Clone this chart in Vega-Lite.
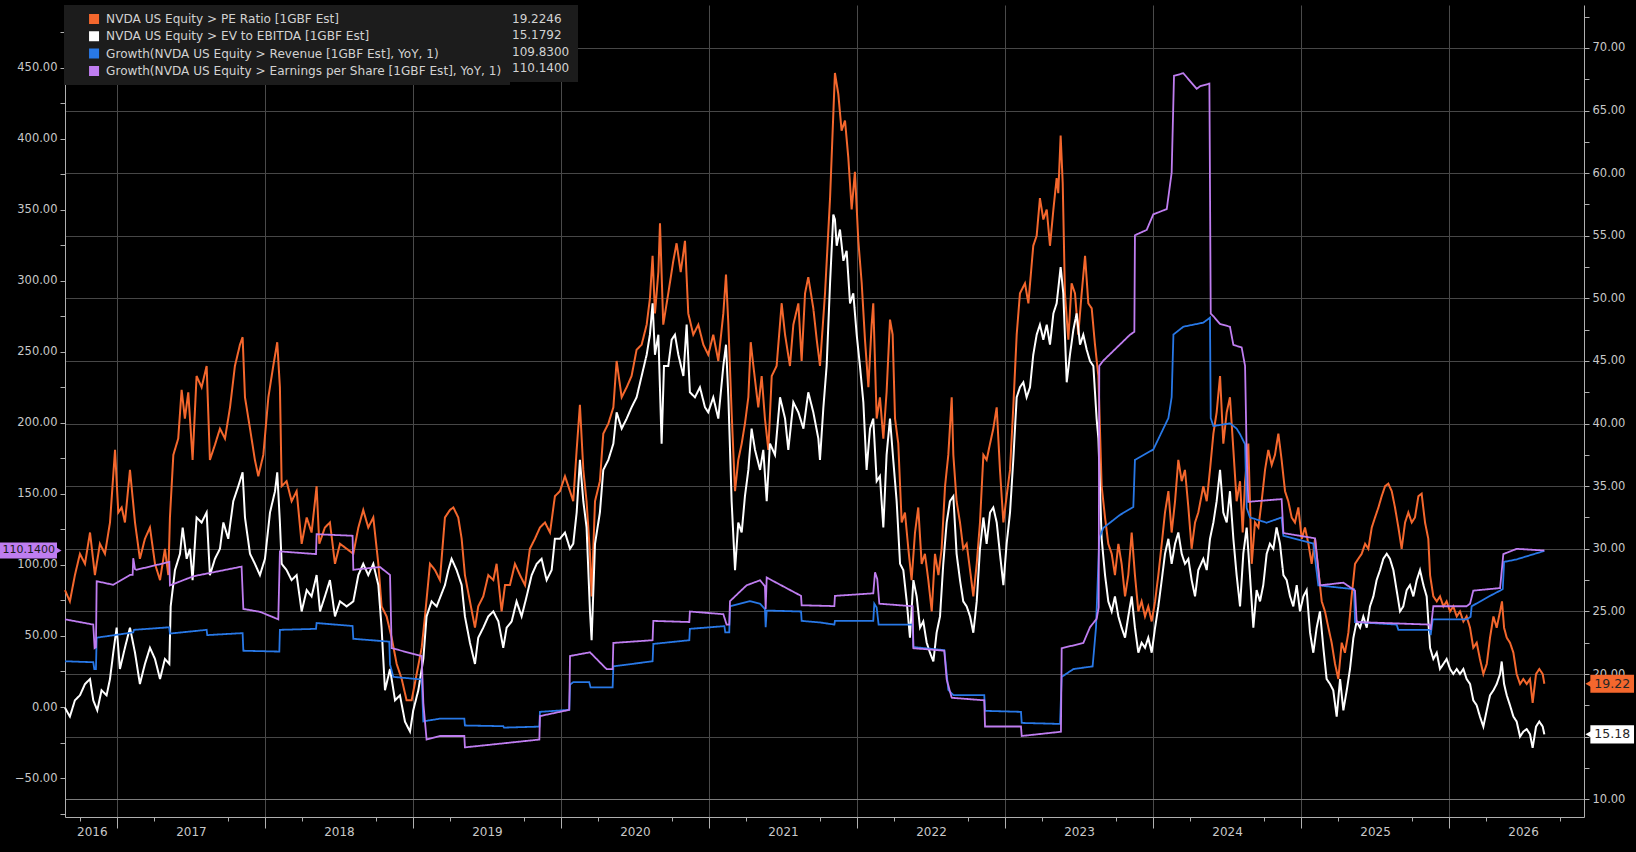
{
  "$schema": "https://vega.github.io/schema/vega-lite/v6.json",
  "width": 1519,
  "height": 812,
  "autosize": {"type": "none"},
  "padding": {"left": 65, "top": 5, "right": 52, "bottom": 35},
  "background": "#000000",
  "config": {
    "view": {"stroke": null, "fill": "#000000"},
    "font": "DejaVu Sans",
    "axis": {"labelFont": "DejaVu Sans", "labelFontSize": 11.5, "labelColor": "#c8c8c8", "tickColor": "#b0b0b0", "domainColor": "#b0b0b0"},
    "legend": {"labelFont": "DejaVu Sans", "labelFontSize": 12, "labelColor": "#d2d2d2", "fillColor": "#1c1c1c", "padding": 8, "rowPadding": 4.3, "labelLimit": 700, "clipHeight": 12}
  },
  "datasets": {
    "pe": [
      {"t":2016.649,"v":26.7},{"t":2016.682,"v":25.8},{"t":2016.716,"v":27.9},{"t":2016.75,"v":29.6},{"t":2016.784,"v":28.8},{"t":2016.818,"v":31.3},{"t":2016.851,"v":27.9},{"t":2016.885,"v":30.4},{"t":2016.919,"v":29.6},{"t":2016.953,"v":32.1},{"t":2016.987,"v":37.9},{"t":2017.009,"v":32.9},{"t":2017.032,"v":33.3},{"t":2017.054,"v":32.1},{"t":2017.088,"v":36.3},{"t":2017.122,"v":32.1},{"t":2017.155,"v":29.2},{"t":2017.189,"v":30.8},{"t":2017.223,"v":31.7},{"t":2017.257,"v":28.8},{"t":2017.291,"v":27.5},{"t":2017.324,"v":30.0},{"t":2017.347,"v":27.9},{"t":2017.358,"v":32.5},{"t":2017.381,"v":37.5},{"t":2017.414,"v":38.8},{"t":2017.437,"v":42.7},{"t":2017.459,"v":40.4},{"t":2017.482,"v":42.5},{"t":2017.511,"v":37.1},{"t":2017.538,"v":43.8},{"t":2017.572,"v":42.9},{"t":2017.606,"v":44.6},{"t":2017.628,"v":37.1},{"t":2017.662,"v":38.3},{"t":2017.696,"v":39.6},{"t":2017.73,"v":38.8},{"t":2017.764,"v":41.3},{"t":2017.797,"v":44.6},{"t":2017.831,"v":46.3},{"t":2017.849,"v":46.9},{"t":2017.865,"v":42.1},{"t":2017.899,"v":39.6},{"t":2017.932,"v":37.1},{"t":2017.955,"v":35.8},{"t":2017.989,"v":37.5},{"t":2018.023,"v":42.1},{"t":2018.056,"v":44.6},{"t":2018.083,"v":46.5},{"t":2018.101,"v":42.9},{"t":2018.113,"v":35.0},{"t":2018.146,"v":35.4},{"t":2018.18,"v":33.8},{"t":2018.214,"v":34.6},{"t":2018.248,"v":30.4},{"t":2018.282,"v":32.5},{"t":2018.315,"v":31.3},{"t":2018.349,"v":35.0},{"t":2018.367,"v":30.4},{"t":2018.405,"v":31.7},{"t":2018.439,"v":32.1},{"t":2018.473,"v":28.8},{"t":2018.507,"v":30.4},{"t":2018.552,"v":30.0},{"t":2018.597,"v":29.6},{"t":2018.631,"v":31.7},{"t":2018.664,"v":33.1},{"t":2018.698,"v":31.7},{"t":2018.732,"v":32.5},{"t":2018.766,"v":28.8},{"t":2018.788,"v":25.4},{"t":2018.822,"v":24.6},{"t":2018.856,"v":22.9},{"t":2018.89,"v":20.8},{"t":2018.924,"v":19.6},{"t":2018.957,"v":17.9},{"t":2018.991,"v":17.9},{"t":2019.025,"v":20.0},{"t":2019.059,"v":22.1},{"t":2019.081,"v":24.6},{"t":2019.115,"v":28.8},{"t":2019.149,"v":28.3},{"t":2019.182,"v":27.5},
      {"t":2019.216,"v":32.5},{"t":2019.25,"v":33.1},{"t":2019.273,"v":33.3},{"t":2019.306,"v":32.5},{"t":2019.329,"v":30.8},{"t":2019.351,"v":27.9},{"t":2019.385,"v":25.8},{"t":2019.419,"v":23.7},{"t":2019.441,"v":25.4},{"t":2019.475,"v":26.2},{"t":2019.509,"v":27.9},{"t":2019.543,"v":27.5},{"t":2019.565,"v":28.8},{"t":2019.599,"v":25.0},{"t":2019.622,"v":27.1},{"t":2019.655,"v":27.1},{"t":2019.689,"v":28.8},{"t":2019.723,"v":27.9},{"t":2019.757,"v":27.1},{"t":2019.79,"v":30.0},{"t":2019.824,"v":30.8},{"t":2019.858,"v":31.7},{"t":2019.892,"v":32.1},{"t":2019.926,"v":31.3},{"t":2019.959,"v":34.2},{"t":2019.993,"v":34.6},{"t":2020.027,"v":35.8},{"t":2020.061,"v":34.6},{"t":2020.083,"v":33.8},{"t":2020.106,"v":37.9},{"t":2020.128,"v":41.5},{"t":2020.151,"v":36.3},{"t":2020.173,"v":33.8},{"t":2020.196,"v":29.6},{"t":2020.207,"v":26.2},{"t":2020.23,"v":33.8},{"t":2020.263,"v":35.4},{"t":2020.286,"v":39.2},{"t":2020.32,"v":40.0},{"t":2020.354,"v":41.3},{"t":2020.376,"v":45.0},{"t":2020.41,"v":42.1},{"t":2020.444,"v":42.9},{"t":2020.477,"v":43.8},{"t":2020.511,"v":45.9},{"t":2020.545,"v":46.3},{"t":2020.579,"v":47.9},{"t":2020.601,"v":50.0},{"t":2020.619,"v":53.4},{"t":2020.635,"v":48.8},{"t":2020.658,"v":52.1},{"t":2020.669,"v":56.0},{"t":2020.691,"v":47.9},{"t":2020.725,"v":50.4},{"t":2020.759,"v":53.0},{"t":2020.781,"v":54.4},{"t":2020.809,"v":52.1},{"t":2020.838,"v":54.6},{"t":2020.86,"v":48.8},{"t":2020.894,"v":47.1},{"t":2020.928,"v":47.9},{"t":2020.962,"v":46.3},{"t":2020.995,"v":45.5},{"t":2021.029,"v":47.1},{"t":2021.063,"v":45.0},{"t":2021.097,"v":48.8},{"t":2021.115,"v":51.9},{"t":2021.131,"v":47.9},{"t":2021.153,"v":40.9},{"t":2021.176,"v":34.6},{"t":2021.198,"v":37.1},{"t":2021.221,"v":38.4},{"t":2021.243,"v":40.0},{"t":2021.266,"v":42.1},{"t":2021.282,"v":46.5},{"t":2021.3,"v":44.6},{"t":2021.333,"v":41.3},{"t":2021.356,"v":43.8},{"t":2021.378,"v":40.4},{"t":2021.401,"v":37.9},{"t":2021.424,"v":43.8},{"t":2021.457,"v":44.6},{"t":2021.491,"v":49.6},{"t":2021.514,"v":47.1},{"t":2021.547,"v":44.6},{"t":2021.57,"v":47.9},{"t":2021.604,"v":49.6},{"t":2021.626,"v":45.0},{"t":2021.649,"v":50.4},{"t":2021.671,"v":51.7},{"t":2021.705,"v":49.2},{"t":2021.728,"v":46.7},
      {"t":2021.75,"v":44.6},{"t":2021.784,"v":50.4},{"t":2021.818,"v":58.0},{"t":2021.84,"v":64.7},{"t":2021.851,"v":68.0},{"t":2021.874,"v":66.3},{"t":2021.896,"v":63.4},{"t":2021.919,"v":64.2},{"t":2021.941,"v":61.3},{"t":2021.964,"v":57.1},{"t":2021.986,"v":60.1},{"t":2022.009,"v":54.6},{"t":2022.032,"v":51.2},{"t":2022.054,"v":46.7},{"t":2022.077,"v":42.9},{"t":2022.099,"v":47.9},{"t":2022.11,"v":49.6},{"t":2022.133,"v":40.4},{"t":2022.155,"v":42.1},{"t":2022.178,"v":38.8},{"t":2022.2,"v":42.5},{"t":2022.223,"v":48.3},{"t":2022.241,"v":47.1},{"t":2022.257,"v":40.4},{"t":2022.279,"v":38.4},{"t":2022.302,"v":32.1},{"t":2022.324,"v":32.9},{"t":2022.347,"v":30.0},{"t":2022.369,"v":27.5},{"t":2022.392,"v":31.3},{"t":2022.414,"v":33.3},{"t":2022.437,"v":28.8},{"t":2022.459,"v":29.6},{"t":2022.482,"v":27.5},{"t":2022.505,"v":25.0},{"t":2022.527,"v":29.6},{"t":2022.55,"v":27.9},{"t":2022.572,"v":30.0},{"t":2022.595,"v":35.0},{"t":2022.617,"v":37.5},{"t":2022.64,"v":42.1},{"t":2022.651,"v":37.5},{"t":2022.673,"v":33.8},{"t":2022.696,"v":32.1},{"t":2022.718,"v":30.0},{"t":2022.741,"v":30.4},{"t":2022.764,"v":28.3},{"t":2022.786,"v":26.2},{"t":2022.809,"v":28.8},{"t":2022.831,"v":32.1},{"t":2022.854,"v":37.5},{"t":2022.876,"v":37.1},{"t":2022.899,"v":38.4},{"t":2022.921,"v":39.6},{"t":2022.944,"v":41.3},{"t":2022.966,"v":36.3},{"t":2022.989,"v":32.1},{"t":2023.011,"v":34.2},{"t":2023.034,"v":36.3},{"t":2023.056,"v":41.3},{"t":2023.079,"v":47.1},{"t":2023.101,"v":50.4},{"t":2023.135,"v":51.2},{"t":2023.158,"v":49.6},{"t":2023.191,"v":54.2},{"t":2023.214,"v":55.0},{"t":2023.236,"v":58.0},{"t":2023.259,"v":56.3},{"t":2023.282,"v":57.1},{"t":2023.304,"v":54.2},{"t":2023.327,"v":57.1},{"t":2023.349,"v":59.6},{"t":2023.36,"v":58.4},{"t":2023.376,"v":63.0},{"t":2023.39,"v":59.2},{"t":2023.405,"v":50.4},{"t":2023.428,"v":46.7},{"t":2023.45,"v":51.2},{"t":2023.473,"v":50.4},{"t":2023.495,"v":47.1},{"t":2023.518,"v":50.4},{"t":2023.541,"v":53.4},{"t":2023.563,"v":49.6},{"t":2023.586,"v":49.2},{"t":2023.608,"v":46.3},{"t":2023.631,"v":43.8},{"t":2023.653,"v":35.0},{"t":2023.676,"v":32.5},{"t":2023.698,"v":30.4},{"t":2023.721,"v":29.6},{"t":2023.743,"v":27.9},{"t":2023.766,"v":30.4},{"t":2023.788,"v":28.8},{"t":2023.811,"v":26.2},{"t":2023.833,"v":27.9},{"t":2023.856,"v":31.3},{"t":2023.878,"v":27.9},{"t":2023.901,"v":25.0},{"t":2023.923,"v":25.8},{"t":2023.946,"v":24.6},{"t":2023.968,"v":25.4},{"t":2023.991,"v":24.2},{"t":2024.014,"v":25.8},{"t":2024.036,"v":27.9},{"t":2024.059,"v":30.4},{"t":2024.081,"v":32.9},{"t":2024.104,"v":34.6},{"t":2024.126,"v":31.3},{"t":2024.149,"v":33.8},{"t":2024.171,"v":37.1},{"t":2024.194,"v":35.4},{"t":2024.216,"v":36.3},{"t":2024.239,"v":33.3},{"t":2024.261,"v":30.0},{"t":2024.284,"v":32.1},{"t":2024.306,"v":32.9},
      {"t":2024.34,"v":35.0},{"t":2024.363,"v":33.8},{"t":2024.385,"v":36.3},{"t":2024.408,"v":39.2},{"t":2024.43,"v":40.9},{"t":2024.453,"v":43.8},{"t":2024.475,"v":38.4},{"t":2024.498,"v":40.9},{"t":2024.52,"v":42.1},{"t":2024.543,"v":37.9},{"t":2024.565,"v":33.8},{"t":2024.588,"v":35.4},{"t":2024.606,"v":31.3},{"t":2024.622,"v":35.4},{"t":2024.644,"v":38.4},{"t":2024.655,"v":33.8},{"t":2024.667,"v":28.8},{"t":2024.689,"v":32.1},{"t":2024.712,"v":31.7},{"t":2024.734,"v":33.8},{"t":2024.757,"v":36.3},{"t":2024.779,"v":37.9},{"t":2024.802,"v":36.7},{"t":2024.824,"v":37.5},{"t":2024.847,"v":39.2},{"t":2024.869,"v":37.1},{"t":2024.892,"v":34.6},{"t":2024.914,"v":33.8},{"t":2024.937,"v":32.5},{"t":2024.959,"v":32.1},{"t":2024.982,"v":33.3},{"t":2025.005,"v":30.8},{"t":2025.027,"v":31.7},{"t":2025.05,"v":30.4},{"t":2025.072,"v":28.8},{"t":2025.095,"v":30.8},{"t":2025.117,"v":28.3},{"t":2025.14,"v":25.8},{"t":2025.162,"v":25.0},{"t":2025.185,"v":23.7},{"t":2025.207,"v":22.5},{"t":2025.23,"v":20.8},{"t":2025.252,"v":19.6},{"t":2025.275,"v":22.5},{"t":2025.297,"v":21.7},{"t":2025.32,"v":23.3},{"t":2025.342,"v":26.2},{"t":2025.365,"v":28.8},{"t":2025.387,"v":29.2},{"t":2025.41,"v":29.6},{"t":2025.433,"v":30.4},{"t":2025.455,"v":30.0},{"t":2025.478,"v":31.7},{"t":2025.5,"v":32.5},{"t":2025.523,"v":33.3},{"t":2025.545,"v":34.2},{"t":2025.568,"v":35.0},{"t":2025.59,"v":35.2},{"t":2025.613,"v":34.6},{"t":2025.635,"v":33.3},{"t":2025.658,"v":31.7},{"t":2025.68,"v":30.0},{"t":2025.703,"v":32.1},{"t":2025.725,"v":32.9},{"t":2025.748,"v":32.1},{"t":2025.77,"v":32.5},{"t":2025.793,"v":34.2},{"t":2025.815,"v":34.4},{"t":2025.838,"v":32.1},{"t":2025.86,"v":30.8},{"t":2025.872,"v":27.9},{"t":2025.894,"v":26.2},{"t":2025.917,"v":25.8},{"t":2025.939,"v":26.2},{"t":2025.962,"v":25.4},{"t":2025.984,"v":25.8},{"t":2026.007,"v":25.0},{"t":2026.029,"v":25.4},{"t":2026.052,"v":24.6},{"t":2026.074,"v":25.0},{"t":2026.097,"v":24.2},{"t":2026.119,"v":24.6},{"t":2026.142,"v":23.7},{"t":2026.164,"v":22.1},{"t":2026.187,"v":22.5},{"t":2026.209,"v":21.2},{"t":2026.232,"v":20.0},{"t":2026.255,"v":20.8},{"t":2026.277,"v":22.9},{"t":2026.3,"v":24.6},{"t":2026.322,"v":23.7},{"t":2026.345,"v":25.0},{"t":2026.358,"v":25.8},{"t":2026.372,"v":23.7},{"t":2026.39,"v":22.9},{"t":2026.412,"v":22.5},{"t":2026.435,"v":21.7},{"t":2026.457,"v":20.0},{"t":2026.48,"v":19.2},{"t":2026.502,"v":19.6},{"t":2026.525,"v":19.2},{"t":2026.547,"v":19.6},{"t":2026.565,"v":17.7},{"t":2026.588,"v":20.0},{"t":2026.61,"v":20.4},{"t":2026.633,"v":20.0},{"t":2026.644,"v":19.22}
    ],
    "ev": [
      {"t":2016.649,"v":17.3},{"t":2016.682,"v":16.6},{"t":2016.716,"v":17.9},{"t":2016.75,"v":18.3},{"t":2016.784,"v":19.2},{"t":2016.818,"v":19.6},{"t":2016.84,"v":17.9},{"t":2016.867,"v":17.1},{"t":2016.896,"v":18.7},{"t":2016.93,"v":18.3},{"t":2016.953,"v":19.6},{"t":2016.975,"v":21.7},{"t":2016.998,"v":23.7},{"t":2017.02,"v":20.4},{"t":2017.054,"v":22.1},{"t":2017.088,"v":23.7},{"t":2017.122,"v":21.7},{"t":2017.155,"v":19.2},{"t":2017.189,"v":20.8},{"t":2017.223,"v":22.1},{"t":2017.257,"v":21.2},{"t":2017.291,"v":19.6},{"t":2017.324,"v":21.2},{"t":2017.354,"v":20.8},{"t":2017.363,"v":25.4},{"t":2017.392,"v":28.3},{"t":2017.426,"v":29.6},{"t":2017.444,"v":31.7},{"t":2017.471,"v":29.2},{"t":2017.493,"v":30.0},{"t":2017.511,"v":27.5},{"t":2017.538,"v":32.5},{"t":2017.572,"v":32.1},{"t":2017.606,"v":32.9},{"t":2017.628,"v":27.9},{"t":2017.662,"v":29.2},{"t":2017.696,"v":30.0},{"t":2017.719,"v":32.1},{"t":2017.752,"v":30.8},{"t":2017.786,"v":33.8},{"t":2017.82,"v":35.0},{"t":2017.849,"v":36.1},{"t":2017.865,"v":32.5},{"t":2017.899,"v":29.6},{"t":2017.932,"v":28.8},{"t":2017.966,"v":27.9},{"t":2018.0,"v":29.2},{"t":2018.034,"v":32.9},{"t":2018.068,"v":34.6},{"t":2018.083,"v":36.1},{"t":2018.101,"v":32.1},{"t":2018.113,"v":28.8},{"t":2018.146,"v":28.3},{"t":2018.18,"v":27.5},{"t":2018.214,"v":27.9},{"t":2018.248,"v":25.0},{"t":2018.282,"v":26.7},{"t":2018.315,"v":26.2},{"t":2018.349,"v":27.9},{"t":2018.372,"v":25.0},{"t":2018.405,"v":26.2},{"t":2018.439,"v":27.5},{"t":2018.473,"v":24.6},{"t":2018.507,"v":25.8},{"t":2018.552,"v":25.4},{"t":2018.597,"v":25.8},{"t":2018.631,"v":27.9},{"t":2018.664,"v":28.8},{"t":2018.698,"v":27.9},{"t":2018.732,"v":28.8},{"t":2018.766,"v":27.1},{"t":2018.788,"v":23.7},{"t":2018.811,"v":18.7},{"t":2018.845,"v":20.4},{"t":2018.879,"v":17.9},{"t":2018.912,"v":18.3},{"t":2018.946,"v":16.2},{"t":2018.98,"v":15.4},{"t":2019.002,"v":17.1},{"t":2019.036,"v":18.7},{"t":2019.07,"v":21.2},{"t":2019.092,"v":24.6},{"t":2019.126,"v":25.8},{"t":2019.16,"v":25.4},
      {"t":2019.216,"v":27.1},{"t":2019.239,"v":28.3},{"t":2019.261,"v":29.2},{"t":2019.295,"v":28.3},{"t":2019.329,"v":27.1},{"t":2019.351,"v":24.6},{"t":2019.385,"v":22.5},{"t":2019.419,"v":20.8},{"t":2019.441,"v":22.9},{"t":2019.475,"v":23.7},{"t":2019.509,"v":24.6},{"t":2019.543,"v":25.0},{"t":2019.577,"v":24.2},{"t":2019.61,"v":22.1},{"t":2019.633,"v":23.7},{"t":2019.667,"v":24.2},{"t":2019.7,"v":25.8},{"t":2019.734,"v":24.6},{"t":2019.768,"v":26.2},{"t":2019.802,"v":27.9},{"t":2019.836,"v":28.8},{"t":2019.869,"v":29.2},{"t":2019.903,"v":27.5},{"t":2019.937,"v":28.3},{"t":2019.959,"v":30.8},{"t":2019.993,"v":30.8},{"t":2020.027,"v":31.3},{"t":2020.061,"v":30.0},{"t":2020.083,"v":30.4},{"t":2020.106,"v":32.9},{"t":2020.128,"v":37.1},{"t":2020.151,"v":33.8},{"t":2020.173,"v":31.7},{"t":2020.196,"v":25.0},{"t":2020.207,"v":22.7},{"t":2020.23,"v":30.4},{"t":2020.263,"v":32.9},{"t":2020.286,"v":36.3},{"t":2020.32,"v":37.1},{"t":2020.354,"v":38.4},{"t":2020.376,"v":40.9},{"t":2020.41,"v":39.6},{"t":2020.444,"v":40.4},{"t":2020.477,"v":41.3},{"t":2020.511,"v":42.1},{"t":2020.545,"v":43.8},{"t":2020.579,"v":45.5},{"t":2020.601,"v":47.1},{"t":2020.619,"v":49.6},{"t":2020.635,"v":45.5},{"t":2020.658,"v":47.1},{"t":2020.68,"v":38.4},{"t":2020.696,"v":44.6},{"t":2020.725,"v":44.6},{"t":2020.748,"v":46.7},{"t":2020.77,"v":47.1},{"t":2020.793,"v":45.5},{"t":2020.827,"v":43.8},{"t":2020.849,"v":47.9},{"t":2020.871,"v":42.5},{"t":2020.905,"v":42.1},{"t":2020.939,"v":42.9},{"t":2020.973,"v":41.3},{"t":2020.995,"v":40.9},{"t":2021.029,"v":42.1},{"t":2021.063,"v":40.4},{"t":2021.097,"v":44.6},{"t":2021.115,"v":46.3},{"t":2021.131,"v":42.1},{"t":2021.153,"v":33.8},{"t":2021.176,"v":28.3},{"t":2021.198,"v":32.1},{"t":2021.221,"v":31.3},{"t":2021.243,"v":34.2},{"t":2021.266,"v":36.3},{"t":2021.288,"v":39.6},{"t":2021.311,"v":37.9},{"t":2021.345,"v":36.3},{"t":2021.367,"v":37.9},{"t":2021.39,"v":33.8},{"t":2021.412,"v":38.4},{"t":2021.446,"v":37.5},{"t":2021.48,"v":42.1},{"t":2021.514,"v":40.4},{"t":2021.536,"v":37.9},{"t":2021.57,"v":41.7},{"t":2021.604,"v":40.9},{"t":2021.638,"v":39.6},{"t":2021.671,"v":42.5},{"t":2021.705,"v":40.9},{"t":2021.739,"v":38.8},
      {"t":2021.75,"v":37.1},{"t":2021.773,"v":41.3},{"t":2021.795,"v":44.6},{"t":2021.818,"v":51.2},{"t":2021.84,"v":56.7},{"t":2021.851,"v":56.3},{"t":2021.863,"v":54.2},{"t":2021.885,"v":55.5},{"t":2021.908,"v":53.0},{"t":2021.93,"v":53.8},{"t":2021.953,"v":49.6},{"t":2021.975,"v":50.4},{"t":2021.998,"v":47.1},{"t":2022.02,"v":44.6},{"t":2022.043,"v":41.7},{"t":2022.065,"v":36.3},{"t":2022.088,"v":39.6},{"t":2022.11,"v":40.4},{"t":2022.133,"v":35.4},{"t":2022.155,"v":35.8},{"t":2022.178,"v":31.7},{"t":2022.2,"v":37.5},{"t":2022.223,"v":40.4},{"t":2022.245,"v":37.1},{"t":2022.268,"v":33.8},{"t":2022.291,"v":28.8},{"t":2022.313,"v":28.3},{"t":2022.336,"v":25.8},{"t":2022.358,"v":22.9},{"t":2022.381,"v":27.5},{"t":2022.403,"v":26.2},{"t":2022.426,"v":23.7},{"t":2022.448,"v":24.2},{"t":2022.471,"v":22.5},{"t":2022.493,"v":21.7},{"t":2022.516,"v":21.0},{"t":2022.538,"v":23.3},{"t":2022.561,"v":24.6},{"t":2022.583,"v":28.8},{"t":2022.606,"v":32.1},{"t":2022.628,"v":33.8},{"t":2022.651,"v":34.2},{"t":2022.673,"v":29.6},{"t":2022.696,"v":27.5},{"t":2022.718,"v":25.8},{"t":2022.741,"v":25.4},{"t":2022.764,"v":24.6},{"t":2022.786,"v":23.3},{"t":2022.809,"v":25.8},{"t":2022.831,"v":30.0},{"t":2022.854,"v":32.5},{"t":2022.876,"v":30.4},{"t":2022.899,"v":32.9},{"t":2022.921,"v":33.3},{"t":2022.944,"v":32.1},{"t":2022.966,"v":29.6},{"t":2022.989,"v":27.1},{"t":2023.011,"v":30.4},{"t":2023.034,"v":32.9},{"t":2023.056,"v":37.1},{"t":2023.079,"v":42.1},{"t":2023.101,"v":42.9},{"t":2023.124,"v":43.3},{"t":2023.146,"v":42.1},{"t":2023.169,"v":42.9},{"t":2023.191,"v":45.5},{"t":2023.214,"v":47.1},{"t":2023.236,"v":47.9},{"t":2023.259,"v":46.7},{"t":2023.282,"v":47.9},{"t":2023.304,"v":46.3},{"t":2023.327,"v":48.8},{"t":2023.349,"v":49.6},{"t":2023.376,"v":52.5},{"t":2023.394,"v":50.4},{"t":2023.417,"v":43.3},{"t":2023.439,"v":45.5},{"t":2023.462,"v":47.5},{"t":2023.484,"v":48.8},{"t":2023.507,"v":46.3},{"t":2023.529,"v":47.1},{"t":2023.552,"v":45.9},{"t":2023.574,"v":45.0},{"t":2023.597,"v":44.6},{"t":2023.619,"v":40.4},{"t":2023.631,"v":38.8},{"t":2023.653,"v":30.8},{"t":2023.676,"v":27.9},{"t":2023.698,"v":25.8},{"t":2023.721,"v":25.0},{"t":2023.743,"v":26.2},{"t":2023.766,"v":24.6},{"t":2023.788,"v":23.7},{"t":2023.811,"v":22.9},{"t":2023.833,"v":24.6},{"t":2023.856,"v":26.2},{"t":2023.878,"v":23.7},{"t":2023.901,"v":21.7},{"t":2023.923,"v":22.5},{"t":2023.946,"v":22.1},{"t":2023.968,"v":22.9},{"t":2023.991,"v":21.7},{"t":2024.014,"v":23.7},{"t":2024.036,"v":25.4},{"t":2024.059,"v":27.5},{"t":2024.081,"v":29.6},{"t":2024.104,"v":30.8},{"t":2024.126,"v":28.8},{"t":2024.149,"v":30.4},{"t":2024.171,"v":31.3},{"t":2024.194,"v":29.6},{"t":2024.216,"v":28.8},{"t":2024.239,"v":29.2},{"t":2024.261,"v":27.5},{"t":2024.284,"v":26.2},{"t":2024.306,"v":28.3},
      {"t":2024.34,"v":29.2},{"t":2024.363,"v":28.3},{"t":2024.385,"v":30.8},{"t":2024.408,"v":32.1},{"t":2024.43,"v":33.8},{"t":2024.453,"v":36.3},{"t":2024.475,"v":32.9},{"t":2024.498,"v":32.1},{"t":2024.52,"v":34.6},{"t":2024.543,"v":30.8},{"t":2024.565,"v":27.9},{"t":2024.588,"v":25.4},{"t":2024.61,"v":29.6},{"t":2024.633,"v":31.7},{"t":2024.655,"v":27.9},{"t":2024.678,"v":23.7},{"t":2024.7,"v":26.7},{"t":2024.723,"v":25.8},{"t":2024.745,"v":27.1},{"t":2024.768,"v":29.6},{"t":2024.79,"v":30.4},{"t":2024.813,"v":30.0},{"t":2024.835,"v":31.7},{"t":2024.858,"v":30.4},{"t":2024.881,"v":27.9},{"t":2024.903,"v":27.5},{"t":2024.926,"v":26.2},{"t":2024.948,"v":25.4},{"t":2024.971,"v":27.1},{"t":2024.993,"v":25.0},{"t":2025.016,"v":26.2},{"t":2025.038,"v":26.7},{"t":2025.061,"v":23.3},{"t":2025.083,"v":21.7},{"t":2025.106,"v":23.7},{"t":2025.128,"v":25.0},{"t":2025.151,"v":22.1},{"t":2025.173,"v":19.6},{"t":2025.196,"v":19.2},{"t":2025.218,"v":18.7},{"t":2025.241,"v":16.6},{"t":2025.264,"v":19.6},{"t":2025.286,"v":17.1},{"t":2025.309,"v":18.7},{"t":2025.331,"v":20.4},{"t":2025.354,"v":22.9},{"t":2025.376,"v":24.2},{"t":2025.399,"v":23.7},{"t":2025.421,"v":24.6},{"t":2025.444,"v":23.7},{"t":2025.466,"v":25.4},{"t":2025.489,"v":26.2},{"t":2025.511,"v":27.5},{"t":2025.534,"v":28.3},{"t":2025.556,"v":29.2},{"t":2025.579,"v":29.6},{"t":2025.601,"v":29.2},{"t":2025.624,"v":28.3},{"t":2025.646,"v":26.7},{"t":2025.669,"v":25.0},{"t":2025.691,"v":25.4},{"t":2025.714,"v":26.7},{"t":2025.736,"v":27.1},{"t":2025.759,"v":26.2},{"t":2025.782,"v":27.5},{"t":2025.804,"v":28.3},{"t":2025.827,"v":27.1},{"t":2025.849,"v":26.2},{"t":2025.872,"v":22.1},{"t":2025.894,"v":21.2},{"t":2025.917,"v":21.7},{"t":2025.939,"v":20.4},{"t":2025.962,"v":20.8},{"t":2025.984,"v":21.2},{"t":2026.007,"v":20.4},{"t":2026.029,"v":20.0},{"t":2026.052,"v":20.4},{"t":2026.074,"v":20.0},{"t":2026.097,"v":20.4},{"t":2026.119,"v":19.6},{"t":2026.142,"v":19.2},{"t":2026.164,"v":17.9},{"t":2026.187,"v":17.5},{"t":2026.209,"v":16.6},{"t":2026.232,"v":15.8},{"t":2026.255,"v":17.1},{"t":2026.277,"v":18.3},{"t":2026.3,"v":18.7},{"t":2026.322,"v":19.2},{"t":2026.345,"v":20.0},{"t":2026.356,"v":21.0},{"t":2026.372,"v":19.2},{"t":2026.39,"v":18.3},{"t":2026.412,"v":17.5},{"t":2026.435,"v":16.6},{"t":2026.457,"v":16.2},{"t":2026.48,"v":15.0},{"t":2026.502,"v":15.4},{"t":2026.525,"v":15.6},{"t":2026.547,"v":15.2},{"t":2026.565,"v":14.1},{"t":2026.588,"v":15.8},{"t":2026.61,"v":16.2},{"t":2026.633,"v":15.8},{"t":2026.644,"v":15.18}
    ],
    "rev": [
      {"t":2016.649,"v":32.2},{"t":2016.84,"v":31.5},{"t":2016.847,"v":26.7},{"t":2016.858,"v":26.7},{"t":2016.863,"v":48.8},{"t":2017.11,"v":52.5},{"t":2017.115,"v":54.3},{"t":2017.353,"v":56.1},{"t":2017.358,"v":51.7},{"t":2017.606,"v":54.3},{"t":2017.61,"v":50.6},{"t":2017.849,"v":52.0},{"t":2017.854,"v":39.6},{"t":2018.097,"v":39.0},{"t":2018.101,"v":54.3},{"t":2018.345,"v":55.0},{"t":2018.349,"v":59.1},{"t":2018.592,"v":57.0},{"t":2018.597,"v":48.0},{"t":2018.84,"v":46.0},{"t":2018.845,"v":30.0},{"t":2018.867,"v":21.2},{"t":2019.059,"v":19.4},{"t":2019.07,"v":-10.1},{"t":2019.182,"v":-8.2},{"t":2019.347,"v":-8.2},{"t":2019.351,"v":-13.0},{"t":2019.61,"v":-13.5},{"t":2019.615,"v":-14.5},{"t":2019.854,"v":-13.8},{"t":2019.858,"v":-3.4},{"t":2020.056,"v":-2.0},{"t":2020.061,"v":15.7},{"t":2020.083,"v":17.5},{"t":2020.191,"v":17.5},{"t":2020.2,"v":13.8},{"t":2020.349,"v":13.8},{"t":2020.354,"v":28.6},{"t":2020.619,"v":32.2},{"t":2020.624,"v":44.4},{"t":2020.867,"v":47.0},{"t":2020.871,"v":55.0},{"t":2021.104,"v":56.9},{"t":2021.11,"v":52.5},{"t":2021.137,"v":52.5},{"t":2021.142,"v":70.9},{"t":2021.277,"v":74.5},{"t":2021.345,"v":72.7},{"t":2021.378,"v":69.0},{"t":2021.383,"v":56.1},{"t":2021.39,"v":67.9},{"t":2021.622,"v":67.2},{"t":2021.626,"v":60.6},{"t":2021.75,"v":59.5},{"t":2021.847,"v":58.0},{"t":2021.851,"v":60.6},{"t":2022.11,"v":60.6},{"t":2022.117,"v":72.7},{"t":2022.133,"v":70.0},{"t":2022.146,"v":58.0},{"t":2022.376,"v":58.0},{"t":2022.381,"v":42.2},{"t":2022.59,"v":40.0},{"t":2022.617,"v":12.0},{"t":2022.651,"v":8.4},{"t":2022.86,"v":8.4},{"t":2022.865,"v":-2.7},{"t":2023.108,"v":-3.4},{"t":2023.113,"v":-11.2},{"t":2023.372,"v":-11.9},{"t":2023.383,"v":21.2},{"t":2023.462,"v":26.7},{"t":2023.592,"v":28.6},{"t":2023.615,"v":56.1},{"t":2023.637,"v":118.7},{"t":2023.664,"v":126.0},{"t":2023.777,"v":135.2},{"t":2023.867,"v":140.7},{"t":2023.878,"v":173.9},{"t":2024.002,"v":181.2},{"t":2024.104,"v":203.3},{"t":2024.126,"v":218.0},{"t":2024.138,"v":262.1},{"t":2024.205,"v":267.6},{"t":2024.34,"v":270.5},{"t":2024.374,"v":273.1},{"t":2024.385,"v":274.0},{"t":2024.39,"v":203.3},{"t":2024.408,"v":197.7},{"t":2024.52,"v":199.6},{"t":2024.565,"v":195.9},{"t":2024.588,"v":192.0},{"t":2024.622,"v":184.9},{"t":2024.633,"v":140.0},{"t":2024.655,"v":133.4},{"t":2024.768,"v":129.7},{"t":2024.869,"v":133.4},{"t":2024.881,"v":120.5},{"t":2025.083,"v":115.0},{"t":2025.117,"v":85.6},{"t":2025.286,"v":83.7},{"t":2025.358,"v":83.0},{"t":2025.365,"v":59.8},{"t":2025.646,"v":58.0},{"t":2025.658,"v":54.3},{"t":2025.867,"v":54.3},{"t":2025.876,"v":50.6},{"t":2025.89,"v":61.7},{"t":2026.119,"v":61.7},{"t":2026.146,"v":63.5},{"t":2026.153,"v":70.9},{"t":2026.277,"v":78.2},{"t":2026.345,"v":81.9},{"t":2026.363,"v":83.0},{"t":2026.372,"v":102.1},{"t":2026.457,"v":103.9},{"t":2026.644,"v":109.83}
    ],
    "eps": [
      {"t":2016.649,"v":61.7},{"t":2016.84,"v":58.0},{"t":2016.849,"v":41.4},{"t":2016.858,"v":42.0},{"t":2016.863,"v":88.5},{"t":2016.975,"v":86.0},{"t":2017.088,"v":92.9},{"t":2017.106,"v":93.0},{"t":2017.11,"v":104.7},{"t":2017.122,"v":97.0},{"t":2017.133,"v":96.6},{"t":2017.354,"v":102.1},{"t":2017.358,"v":85.6},{"t":2017.516,"v":92.0},{"t":2017.842,"v":98.8},{"t":2017.854,"v":69.0},{"t":2017.966,"v":67.0},{"t":2018.09,"v":61.7},{"t":2018.101,"v":109.5},{"t":2018.345,"v":107.6},{"t":2018.349,"v":121.6},{"t":2018.592,"v":120.5},{"t":2018.597,"v":96.6},{"t":2018.777,"v":98.5},{"t":2018.845,"v":92.9},{"t":2018.856,"v":41.4},{"t":2019.059,"v":35.9},{"t":2019.07,"v":2.8},{"t":2019.092,"v":-22.9},{"t":2019.182,"v":-20.4},{"t":2019.347,"v":-20.4},{"t":2019.351,"v":-28.4},{"t":2019.854,"v":-22.9},{"t":2019.858,"v":-6.4},{"t":2020.056,"v":-2.0},{"t":2020.061,"v":35.9},{"t":2020.196,"v":38.5},{"t":2020.308,"v":26.7},{"t":2020.349,"v":26.7},{"t":2020.354,"v":45.1},{"t":2020.619,"v":47.0},{"t":2020.624,"v":60.6},{"t":2020.867,"v":59.8},{"t":2020.871,"v":67.2},{"t":2021.097,"v":65.3},{"t":2021.119,"v":58.0},{"t":2021.137,"v":58.0},{"t":2021.142,"v":74.5},{"t":2021.254,"v":85.6},{"t":2021.345,"v":89.2},{"t":2021.378,"v":85.0},{"t":2021.383,"v":69.0},{"t":2021.39,"v":91.1},{"t":2021.622,"v":78.2},{"t":2021.626,"v":71.6},{"t":2021.847,"v":71.0},{"t":2021.851,"v":78.2},{"t":2022.11,"v":80.0},{"t":2022.122,"v":94.8},{"t":2022.137,"v":90.0},{"t":2022.151,"v":72.7},{"t":2022.376,"v":70.9},{"t":2022.381,"v":41.4},{"t":2022.59,"v":39.6},{"t":2022.606,"v":19.4},{"t":2022.64,"v":6.5},{"t":2022.86,"v":4.7},{"t":2022.865,"v":-13.7},{"t":2023.108,"v":-13.7},{"t":2023.113,"v":-20.4},{"t":2023.378,"v":-17.4},{"t":2023.383,"v":41.4},{"t":2023.529,"v":45.0},{"t":2023.574,"v":56.1},{"t":2023.619,"v":62.0},{"t":2023.633,"v":70.0},{"t":2023.637,"v":240.0},{"t":2023.664,"v":243.7},{"t":2023.845,"v":262.0},{"t":2023.874,"v":264.0},{"t":2023.878,"v":332.0},{"t":2023.957,"v":335.7},{"t":2024.002,"v":346.7},{"t":2024.093,"v":350.4},{"t":2024.126,"v":376.0},{"t":2024.142,"v":444.2},{"t":2024.205,"v":446.0},{"t":2024.295,"v":435.0},{"t":2024.318,"v":436.8},{"t":2024.381,"v":438.7},{"t":2024.39,"v":276.8},{"t":2024.408,"v":275.0},{"t":2024.453,"v":269.5},{"t":2024.52,"v":267.6},{"t":2024.543,"v":254.8},{"t":2024.599,"v":253.0},{"t":2024.622,"v":240.0},{"t":2024.633,"v":177.5},{"t":2024.644,"v":144.4},{"t":2024.869,"v":146.3},{"t":2024.881,"v":122.4},{"t":2025.095,"v":118.7},{"t":2025.128,"v":85.6},{"t":2025.286,"v":87.5},{"t":2025.365,"v":81.9},{"t":2025.376,"v":59.8},{"t":2025.867,"v":58.0},{"t":2025.876,"v":54.3},{"t":2025.894,"v":70.9},{"t":2026.119,"v":70.9},{"t":2026.142,"v":72.7},{"t":2026.164,"v":81.9},{"t":2026.345,"v":83.7},{"t":2026.367,"v":107.6},{"t":2026.457,"v":111.3},{"t":2026.644,"v":110.14}
    ],
    "tagsRight": [
      {"s":"pe","t":2026.955,"t2":2027.25,"v":19.22,"lo":18.5,"hi":19.94,"label":"19.22"},
      {"s":"ev","t":2026.955,"t2":2027.25,"v":15.18,"lo":14.46,"hi":15.9,"label":"15.18"}
    ],
    "tagsLeft": [
      {"t":2016.595,"t2":2016.205,"v":110.14,"lo":104.5,"hi":115.8,"label":"110.1400"}
    ]
  },
  "encoding": {
    "x": {
      "field": "t",
      "type": "quantitative",
      "scale": {"domain": [2016.649, 2026.912], "nice": false, "zero": false},
      "axis": {
        "title": null,
        "values": [2016.75,2016.83,2017,2017.25,2017.5,2017.75,2018,2018.25,2018.5,2018.75,2019,2019.25,2019.5,2019.75,2020,2020.25,2020.5,2020.75,2021,2021.25,2021.5,2021.75,2022,2022.25,2022.5,2022.75,2023,2023.25,2023.5,2023.75,2024,2024.25,2024.5,2024.75,2025,2025.25,2025.5,2025.75,2026,2026.25,2026.5,2026.75],
        "labelExpr": "(datum.value % 1 === 0.5 || datum.value === 2016.83) ? '' + floor(datum.value) : ''",
        "labelOverlap": false,
        "labelFlush": false,
        "labelBound": false,
        "labelFontSize": 12,
        "labelPadding": 5,
        "grid": true,
        "gridColor": "#4a4a4a",
        "gridOpacity": {"condition": {"test": "datum.value % 1 === 0", "value": 1}, "value": 0},
        "tickSize": {"condition": {"test": "datum.value % 1 === 0", "value": 11}, "value": 4},
        "tickOpacity": {"condition": {"test": "datum.value % 0.25 > 0.01 || datum.value % 1 === 0.5", "value": 0}, "value": 1}
      }
    }
  },
  "layer": [
    {
      "encoding": {
        "y": {
          "field": "v",
          "type": "quantitative",
          "scale": {"domain": [8.58, 73.43], "nice": false, "zero": false},
          "axis": {
            "orient": "right",
            "title": null,
            "values": [10,12.5,15,17.5,20,22.5,25,27.5,30,32.5,35,37.5,40,42.5,45,47.5,50,52.5,55,57.5,60,62.5,65,67.5,70,72.5],
            "labelExpr": "(datum.value % 5 === 0 && datum.value !== 15) ? format(datum.value, '.2f') : ''",
            "labelOverlap": false,
            "labelPadding": 3,
            "tickSize": 5,
            "grid": true,
            "gridColor": {"condition": {"test": "datum.value === 10", "value": "#7d7d7d"}, "value": "#474747"},
            "gridOpacity": {"condition": {"test": "datum.value % 5 === 0", "value": 1}, "value": 0}
          }
        }
      },
      "layer": [
        {
          "data": {"name": "pe"},
          "mark": {"type": "line", "strokeWidth": 2},
          "encoding": {
            "color": {"datum": "NVDA US Equity > PE Ratio [1GBF Est]", "type": "nominal",
              "scale": {"domain": ["NVDA US Equity > PE Ratio [1GBF Est]", "NVDA US Equity > EV to EBITDA [1GBF Est]", "Growth(NVDA US Equity > Revenue [1GBF Est], YoY, 1)", "Growth(NVDA US Equity > Earnings per Share [1GBF Est], YoY, 1)"], "range": ["#f4672d", "#ffffff", "#2878e6", "#bf7df0"]},
              "legend": {"orient": "none", "legendX": -1, "legendY": 0, "title": null, "symbolType": "square", "symbolSize": 25, "symbolStrokeWidth": 5, "symbolOffset": 16, "labelOffset": 6, "labelFontSize": 12.1}},
            "strokeDash": {"datum": "\u200719.2246\u2007\u2007\u2007", "type": "nominal",
              "scale": {"domain": ["\u200719.2246\u2007\u2007\u2007", "\u200715.1792\u2007\u2007\u2007", "109.8300\u2007\u2007\u2007", "110.1400\u2007\u2007\u2007"], "range": [[1,0],[1,0],[1,0],[1,0]]},
              "legend": {"orient": "none", "legendX": 439, "legendY": 0, "title": null, "symbolOpacity": 0, "symbolSize": 1, "labelOffset": -12, "labelFontSize": 12}}
          }
        },
        {
          "data": {"name": "ev"},
          "mark": {"type": "line", "strokeWidth": 2},
          "encoding": {
            "color": {"datum": "NVDA US Equity > EV to EBITDA [1GBF Est]", "type": "nominal"},
            "strokeDash": {"datum": "\u200715.1792\u2007\u2007\u2007", "type": "nominal"}
          }
        },
        {
          "data": {"name": "tagsRight"},
          "mark": {"type": "rect"},
          "encoding": {
            "x2": {"field": "t2"},
            "y": {"field": "lo", "type": "quantitative"},
            "y2": {"field": "hi"},
            "fill": {"field": "s", "type": "nominal", "scale": {"domain": ["pe", "ev"], "range": ["#f4672d", "#ffffff"]}, "legend": null}
          }
        },
        {
          "data": {"name": "tagsRight"},
          "mark": {"type": "point", "shape": "triangle-left", "filled": true, "opacity": 1, "size": 130},
          "encoding": {
            "fill": {"field": "s", "type": "nominal", "scale": {"domain": ["pe", "ev"], "range": ["#f4672d", "#ffffff"]}, "legend": null}
          }
        },
        {
          "data": {"name": "tagsRight"},
          "mark": {"type": "text", "fontSize": 12.5, "color": "#262626", "align": "left", "dx": 4},
          "encoding": {
            "text": {"field": "label"}
          }
        }
      ]
    },
    {
      "encoding": {
        "y": {
          "field": "v",
          "type": "quantitative",
          "scale": {"domain": [-77.4, 494.0], "nice": false, "zero": false},
          "axis": {
            "orient": "left",
            "title": null,
            "values": [-75,-50,-25,0,25,50,75,100,125,150,175,200,225,250,275,300,325,350,375,400,425,450,475],
            "labelExpr": "datum.value % 50 === 0 ? format(datum.value, '.2f') : ''",
            "labelOverlap": false,
            "labelPadding": 3,
            "tickSize": 5,
            "grid": false
          }
        }
      },
      "layer": [
        {
          "data": {"name": "rev"},
          "mark": {"type": "line", "strokeWidth": 1.8},
          "encoding": {
            "color": {"datum": "Growth(NVDA US Equity > Revenue [1GBF Est], YoY, 1)", "type": "nominal"},
            "strokeDash": {"datum": "109.8300\u2007\u2007\u2007", "type": "nominal"}
          }
        },
        {
          "data": {"name": "eps"},
          "mark": {"type": "line", "strokeWidth": 1.8},
          "encoding": {
            "color": {"datum": "Growth(NVDA US Equity > Earnings per Share [1GBF Est], YoY, 1)", "type": "nominal"},
            "strokeDash": {"datum": "110.1400\u2007\u2007\u2007", "type": "nominal"}
          }
        },
        {
          "data": {"name": "tagsLeft"},
          "mark": {"type": "rect", "color": "#bf7df0"},
          "encoding": {
            "x2": {"field": "t2"},
            "y": {"field": "lo", "type": "quantitative"},
            "y2": {"field": "hi"}
          }
        },
        {
          "data": {"name": "tagsLeft"},
          "mark": {"type": "point", "shape": "triangle-right", "filled": true, "opacity": 1, "size": 110, "color": "#bf7df0"}
        },
        {
          "data": {"name": "tagsLeft"},
          "mark": {"type": "text", "fontSize": 11, "color": "#1a1a1a", "align": "right", "dx": -2},
          "encoding": {
            "text": {"field": "label"}
          }
        }
      ]
    }
  ],
  "resolve": {"scale": {"y": "independent"}}
}
